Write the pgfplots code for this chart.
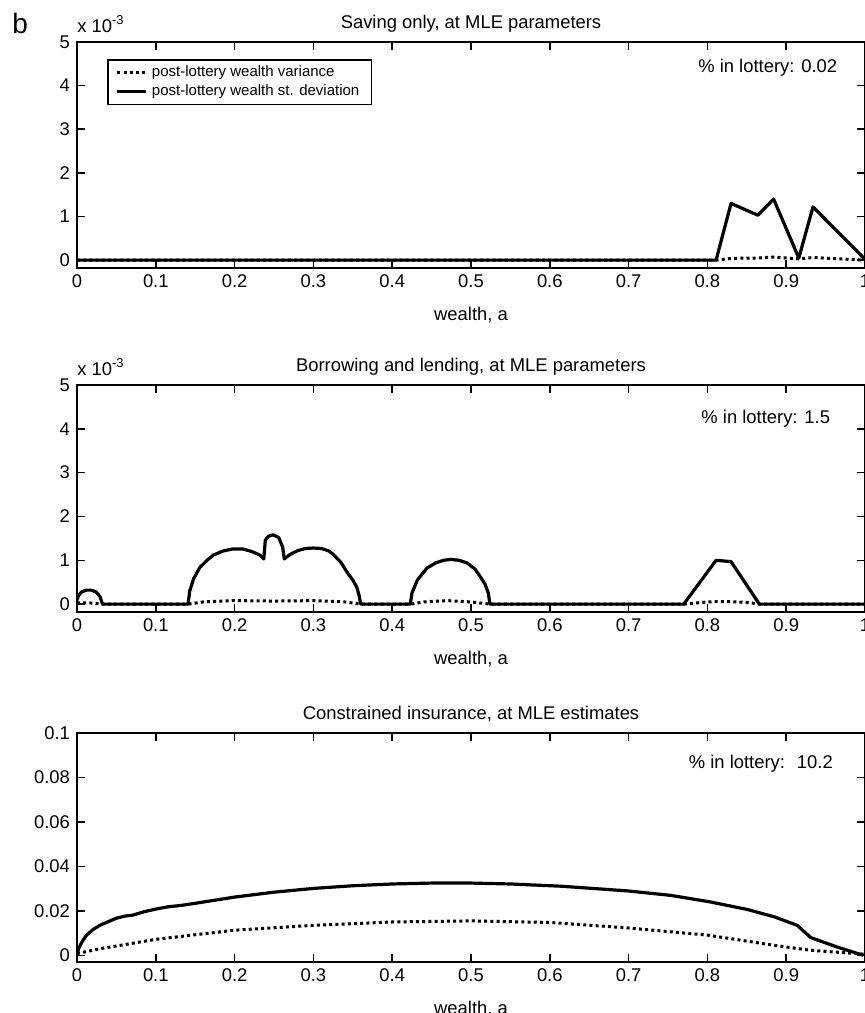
\documentclass[border=0pt]{standalone}
\usepackage{pgfplots}
\pgfplotsset{compat=1.18}
\usepackage{fontspec}
\setmainfont{Liberation Sans}

\newcommand{\lab}{\fontsize{9.2}{11}\selectfont}

\pgfplotsset{
  every axis title/.style={at={(0.5,1)}, anchor=base, yshift=6.75pt, font=\lab},
  panel/.style={
    scale only axis, width=394pt,
    xmin=0, xmax=1,
    xtick={0,0.1,0.2,0.3,0.4,0.5,0.6,0.7,0.8,0.9,1},
    xticklabels={0,0.1,0.2,0.3,0.4,0.5,0.6,0.7,0.8,0.9,1},
    tick align=inside, major tick length=4pt,
    axis line style={line width=1pt},
    every tick/.style={black, line width=0.8pt},
    tick label style={font=\lab},
    xlabel={wealth, a},
    xlabel style={font=\lab, at={(axis description cs:0.5,0)}, anchor=base, yshift=-26pt},
    scaled y ticks=false,
    clip mode=individual,
  },
  sd/.style={black, line width=1.6pt, line join=round},
  var/.style={black, line width=1.5pt, dash pattern=on 1.5pt off 1.6pt},
}

\begin{document}
\begin{tikzpicture}
\path[use as bounding box] (-38.5pt,21pt) rectangle (393.5pt,-485.5pt);
\node[anchor=base west, inner sep=0pt, font=\fontsize{14}{16}\selectfont] at (-32.5pt,4.5pt) {b};

% saving only
\begin{axis}[panel, at={(0pt,0pt)}, anchor=north west, height=113pt,
    ymin=-0.18, ymax=5, ytick={0,1,2,3,4,5}, yticklabels={0,1,2,3,4,5},
    title={Saving only, at MLE parameters},
    legend style={at={(0,1)}, anchor=north west, xshift=15pt, yshift=-8.5pt,
        draw=black, line width=0.8pt, font=\fontsize{7.5}{8.5}\selectfont,
        inner xsep=4pt, inner ysep=1pt, row sep=-1.5pt},
    legend cell align=left,
    legend image code/.code={\draw[#1] (0pt,0pt) -- (14.5pt,0pt);},
]
\addplot[var] coordinates {(0,0) (0.811,0) (0.83,0.04) (0.864,0.05) (0.884,0.07) (0.916,0.03) (0.934,0.06) (1.0,0.0)};
\addlegendentry{post-lottery wealth variance}
\addplot[sd] coordinates {(0,0) (0.811,0) (0.83,1.3) (0.864,1.03) (0.884,1.4) (0.916,0.05) (0.934,1.22) (1.0,0.02)};
\addlegendentry{post-lottery wealth st. deviation}
\node[anchor=base west, inner sep=0pt, font=\lab] at (rel axis cs:0,1) [yshift=4.8pt] {x 10\textsuperscript{-3}};
\node[anchor=base west, inner sep=0pt, font=\lab] at (axis cs:0.788,4.29) {\% in lottery: 0.02};
\end{axis}

% borrowing and lending
\begin{axis}[panel, at={(0pt,-171.5pt)}, anchor=north west, height=113.5pt,
    ymin=-0.18, ymax=5, ytick={0,1,2,3,4,5}, yticklabels={0,1,2,3,4,5},
    title={Borrowing and lending, at MLE parameters},
]
\addplot[var] coordinates {(0,0.03) (0.015,0.03) (0.033,0) (0.141,0) (0.16,0.05) (0.2,0.08) (0.25,0.07) (0.3,0.08) (0.34,0.05) (0.36,0) (0.423,0) (0.44,0.05) (0.47,0.08) (0.5,0.05) (0.524,0) (0.77,0) (0.8,0.05) (0.82,0.06) (0.85,0.04) (0.866,0) (1,0)};
\addplot[sd] coordinates {(0,0.09) (0.002,0.2) (0.006,0.28) (0.012,0.32) (0.018,0.32) (0.024,0.28) (0.029,0.18) (0.032,0.02) (0.033,0) (0.141,0) (0.143,0.3) (0.148,0.58) (0.156,0.84) (0.165,1.0) (0.173,1.12) (0.185,1.21) (0.198,1.26) (0.21,1.26) (0.222,1.2) (0.232,1.12) (0.237,1.03) (0.239,1.46) (0.243,1.55) (0.249,1.58) (0.256,1.52) (0.261,1.3) (0.263,1.03) (0.27,1.13) (0.28,1.22) (0.29,1.27) (0.30,1.28) (0.31,1.27) (0.32,1.21) (0.326,1.12) (0.335,0.95) (0.343,0.72) (0.35,0.55) (0.355,0.39) (0.358,0.2) (0.36,0) (0.423,0) (0.425,0.25) (0.432,0.55) (0.444,0.82) (0.455,0.94) (0.465,1.0) (0.474,1.02) (0.485,1.0) (0.495,0.94) (0.505,0.8) (0.512,0.62) (0.518,0.45) (0.522,0.25) (0.524,0) (0.77,0) (0.811,1.0) (0.830,0.97) (0.866,0) (1,0)};
\node[anchor=base west, inner sep=0pt, font=\lab] at (rel axis cs:0,1) [yshift=4.8pt] {x 10\textsuperscript{-3}};
\node[anchor=base west, inner sep=0pt, font=\lab] at (axis cs:0.792,4.13) {\% in lottery: 1.5};
\end{axis}

% constrained insurance
\begin{axis}[panel, at={(0pt,-345.5pt)}, anchor=north west, height=114.5pt,
    ymin=-0.003, ymax=0.1, ytick={0,0.02,0.04,0.06,0.08,0.1},
    yticklabels={0,0.02,0.04,0.06,0.08,0.1},
    title={Constrained insurance, at MLE estimates},
]
\addplot[var] coordinates {(0,0.0008) (0.03,0.003) (0.1,0.0072) (0.2,0.0113) (0.3,0.0135) (0.4,0.015) (0.5,0.0155) (0.6,0.0148) (0.7,0.0123) (0.8,0.0091) (0.885,0.0045) (0.93,0.0023) (1,0.0005)};
\addplot[sd] coordinates {(0,0) (0.002,0.003) (0.004,0.0045) (0.008,0.007) (0.012,0.009) (0.02,0.0115) (0.029,0.0135) (0.04,0.0152) (0.05,0.0167) (0.06,0.0176) (0.071,0.0181) (0.085,0.0196) (0.1,0.0208) (0.115,0.0218) (0.133,0.0225) (0.15,0.0234) (0.2,0.0262) (0.25,0.0284) (0.3,0.0301) (0.35,0.0313) (0.4,0.0321) (0.45,0.0325) (0.5,0.0325) (0.55,0.0321) (0.614,0.0311) (0.698,0.029) (0.753,0.027) (0.804,0.024) (0.851,0.0206) (0.885,0.0173) (0.914,0.0135) (0.931,0.008) (0.965,0.0037) (0.998,0)};
\node[anchor=base west, inner sep=0pt, font=\lab] at (axis cs:0.776,0.0842) {\% in lottery: \ 10.2};
\end{axis}
\end{tikzpicture}
\end{document}
